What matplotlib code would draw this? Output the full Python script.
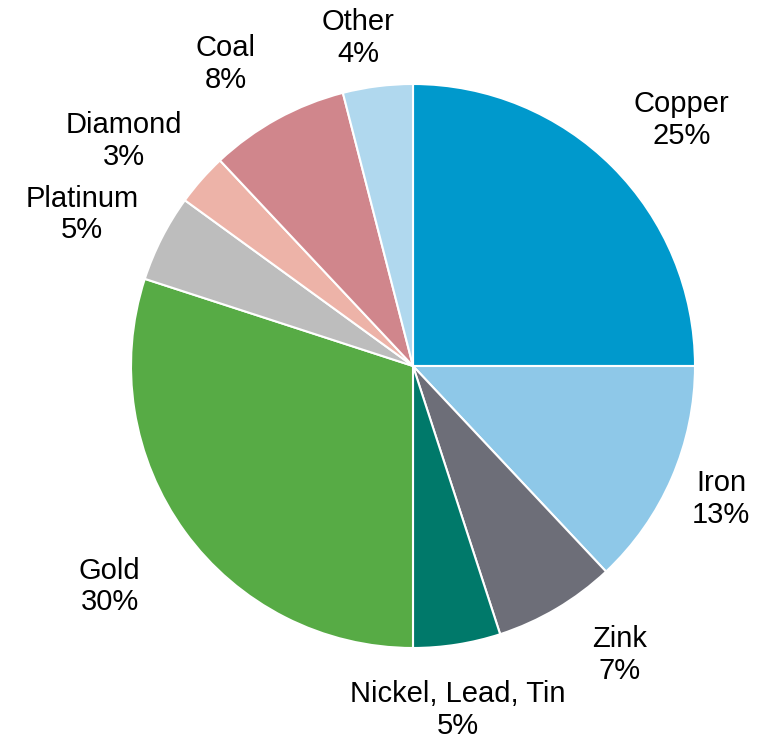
import matplotlib
matplotlib.use("Agg")
import matplotlib.pyplot as plt
import numpy as np

categories = ["Copper", "Iron", "Zink", "Nickel, Lead, Tin", "Gold",
              "Platinum", "Diamond", "Coal", "Other"]
shares = [25, 13, 7, 5, 30, 5, 3, 8, 4]
colors = ["#0099CC", "#8EC8E8", "#6D6E78", "#00796A", "#57AB45",
          "#BDBDBD", "#EDB3A8", "#D0868C", "#B0D8EE"]

# label layout (radial distance in pie radii, angular nudge in degrees)
label_radius = [1.29, 1.19, 1.26, 1.23, 1.33, 1.29, 1.30, 1.26, 1.18]
label_nudge = [-2.5, 0, 5, -1.6, 0, 2.4, 3.5, 3.0, 2.3]

plt.rcParams['font.family'] = ['Liberation Sans', 'DejaVu Sans']

W, H = 769, 743
fig = plt.figure(figsize=(W / 100, H / 100), dpi=100)
ax = fig.add_axes([0, 0, 1, 1])

wedges, _ = ax.pie(shares, colors=colors, startangle=90,
                   counterclock=False,
                   wedgeprops=dict(edgecolor="white", linewidth=1.5))

for w, c, s, r, dn in zip(wedges, categories, shares, label_radius, label_nudge):
    mid = np.deg2rad((w.theta1 + w.theta2) / 2 + dn)
    ax.text(r * np.cos(mid), r * np.sin(mid), f"{c}\n{s}%",
            ha="center", va="center", fontsize=21, linespacing=1.17,
            color="black")

R = 282.0
cx, cy = 413.0, H - 366.0
ax.set_xlim(-cx / R, (W - cx) / R)
ax.set_ylim(-cy / R, (H - cy) / R)
ax.set_aspect("equal")
ax.axis("off")

fig.savefig("out.png", dpi=100)
